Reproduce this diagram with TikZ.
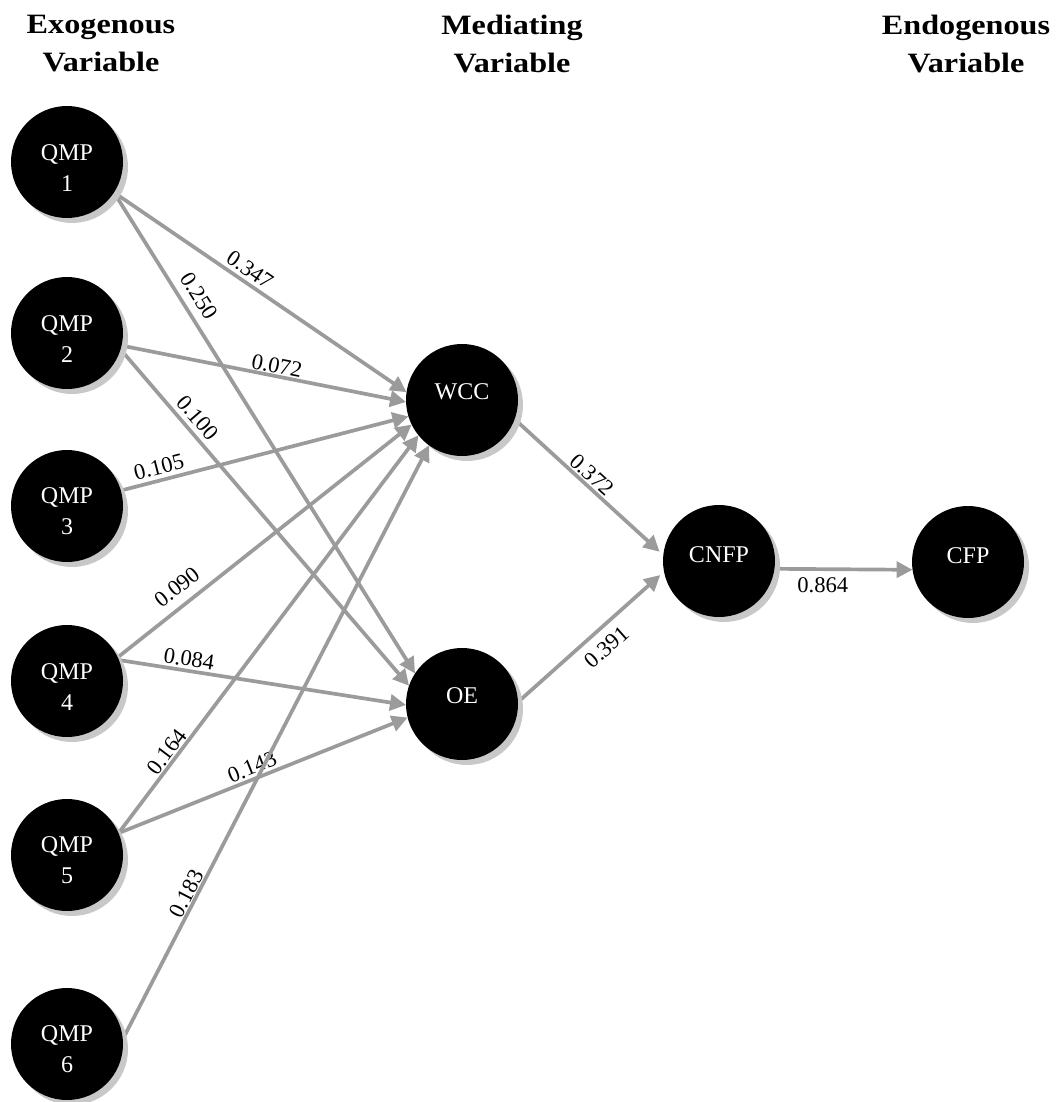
\documentclass[tikz,border=0pt]{standalone}
\usepackage{fontspec}
\setmainfont{Liberation Serif}
\newfontfamily\hdfont[FakeStretch=1.15]{Liberation Serif}
\usetikzlibrary{arrows.meta,shadows}
\definecolor{edgegray}{RGB}{155,155,155}
\definecolor{shadegray}{RGB}{200,200,200}
\pgfdeclarelayer{bg}
\pgfsetlayers{bg,main}
\newcommand\vlift[1]{\rule[-#1]{0pt}{#1}}
\begin{document}
\begin{tikzpicture}[x=1pt,y=-1pt,
  var/.style={circle, fill=black, minimum size=112pt, inner sep=0pt, outer sep=0pt,
    text=white, align=center, font=\fontsize{24}{31}\selectfont,
    drop shadow={shadow xshift=5pt, shadow yshift=-5pt, fill=shadegray, opacity=1}},
  head/.style={align=center, font=\hdfont\bfseries\fontsize{28}{38}\selectfont},
  link/.style={draw=edgegray, line width=3.7pt, -{Triangle[length=16pt,width=16pt]}},
  wt/.style={sloped, above, inner ysep=#1, inner xsep=0pt, outer sep=0pt,
    text=black, font=\fontsize{22.5}{27}\selectfont},
  wtb/.style={sloped, below, inner ysep=#1, inner xsep=0pt, outer sep=0pt,
    text=black, font=\fontsize{22.5}{27}\selectfont}
]
\useasboundingbox (0,0) rectangle (1056,1102);

% headers
\node[head] (h1) at (101,43.5) {Exogenous\\Variable};
\node[head] (h2) at (512,43.5) {Mediating\\Variable};
\node[head] (h3) at (966,43.5) {Endogenous\\Variable};

% nodes
\node[var] (q1) at (67,162) {\rule{0pt}{27pt}QMP\\1};
\node[var] (q2) at (67,333) {\rule{0pt}{27pt}QMP\\2};
\node[var] (q3) at (67,506) {\rule{0pt}{27pt}QMP\\3};
\node[var] (q4) at (67,681) {\rule{0pt}{27pt}QMP\\4};
\node[var] (q5) at (67,855) {\rule{0pt}{27pt}QMP\\5};
\node[var] (q6) at (67,1044) {\rule{0pt}{27pt}QMP\\6};
\node[var] (wcc) at (462,400) {WCC\vlift{16pt}};
\node[var] (oe) at (462,704) {OE\vlift{16pt}};
\node[var] (cnfp) at (719,561) {CNFP\vlift{12pt}};
\node[var] (cfp) at (968,562) {CFP\vlift{12pt}};

% connectors
\begin{pgfonlayer}{bg}
\draw[link] (q1.-33) -- node[wt=5.1pt, pos=0.44] (w1) {0.347} (wcc.172);
\draw[link] (q1.-33) -- node[wt=9.4pt, pos=0.234] (w2) {0.250} (oe.147);
\draw[link] (q2.-13) -- node[wt=2.6pt, pos=0.539] (w3) {0.072} (wcc.182);
\draw[link] (q2.-17) -- node[wt=6.5pt, pos=0.231] (w4) {0.100} (oe.161);
\draw[link] (q3.16) -- node[wt=5.7pt, pos=0.144] (w5) {0.105} (wcc.197);
\draw[link] (q4.25) -- node[wt=10.8pt, pos=0.24] (w6) {0.090} (wcc.206);
\draw[link] (q4.22) -- node[wt=4.2pt, pos=0.238] (w7) {0.084} (oe.181);
\draw[link] (q5.23) -- node[wt=2.5pt, pos=0.189] (w8) {0.164} (wcc.219);
\draw[link] (q5.23) -- node[wt=4.2pt, pos=0.477] (w9) {0.143} (oe.194);
\draw[link] (q6.5) -- node[wt=1.9pt, pos=0.237] (w10) {0.183} (wcc.234);
\draw[link, shorten >=5pt] (wcc.-20) -- node[wt=3.4pt, pos=0.47] (w11) {0.372} (cnfp.174);
\draw[link, shorten >=5pt] (oe.2) -- node[wtb=10.6pt, pos=0.526] (w12) {0.391} (cnfp.191);
\draw[link] (cnfp.-8) -- node[wtb=8.4pt, pos=0.351] (w13) {0.864} (cfp.188);
\end{pgfonlayer}
\end{tikzpicture}
\end{document}
